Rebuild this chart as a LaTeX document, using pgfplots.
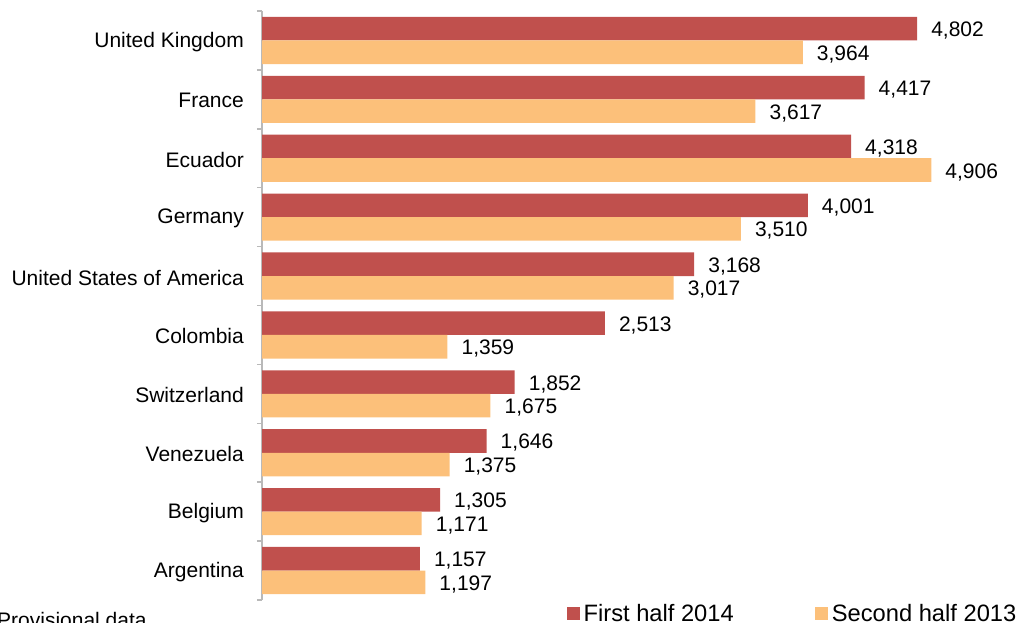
\documentclass[border=0pt]{standalone}
\usepackage{pgfplots}
\pgfplotsset{compat=1.18}
\usepackage{fontspec}
\setmainfont{Liberation Sans}
\definecolor{first}{RGB}{192,80,77}
\definecolor{second}{RGB}{252,192,122}
\definecolor{axisgray}{RGB}{185,185,185}
\newcommand{\lblfont}{\fontsize{21}{25}\selectfont}
\newcommand{\legfont}{\fontsize{23.7}{28}\selectfont}

\begin{document}
\begin{tikzpicture}
\useasboundingbox (0pt,0pt) rectangle (1020pt,622pt);
\begin{axis}[
  at={(262pt,22pt)}, anchor=south west,
  scale only axis,
  width=738pt, height=589pt,
  xbar, bar width=0.4,
  xmin=0, xmax=5410,
  ymin=-0.5, ymax=9.5,
  axis x line=none,
  axis y line*=left,
  axis line style={draw=axisgray, line width=1.5pt},
  ytick={0,...,9},
  yticklabels={Argentina, Belgium, Venezuela, Switzerland, Colombia, United States of America, Germany, Ecuador, France, United Kingdom},
  ytick style={draw=axisgray, line width=1.5pt},
  major tick length=0pt,
  yticklabel style={font=\lblfont, inner sep=0pt, xshift=-18pt, yshift=-1.5pt},
  extra y ticks={-0.5,0.5,1.5,2.5,3.5,4.5,5.5,6.5,7.5,8.5,9.5},
  extra y tick labels={},
  extra y tick style={tick align=outside, major tick length=5pt},
  clip=false,
  point meta=x,
  /pgf/number format/assume math mode=true,
  nodes near coords,
  every node near coord/.append style={font=\lblfont, anchor=west, inner sep=0pt, xshift=14pt, yshift=-2pt},
  legend columns=2,
  legend style={at={(0.4133,-0.0228)}, anchor=west, draw=none, fill=none,
    inner sep=0pt, outer sep=0pt, font=\legfont, nodes={inner sep=0pt},
    /tikz/every odd column/.append style={column sep=4pt},
    /tikz/every even column/.append style={column sep=81.5pt}},
  legend image code/.code={\fill[#1] (0pt,-6.3pt) rectangle (12.6pt,6.3pt);},
]
% first half 2014
\addplot[fill=first, draw=none, bar shift=0.2] coordinates {
  (1157,0) (1305,1) (1646,2) (1852,3) (2513,4) (3168,5) (4001,6) (4318,7) (4417,8) (4802,9)};
% second half 2013
\addplot[fill=second, draw=none, bar shift=-0.2] coordinates {
  (1197,0) (1171,1) (1375,2) (1675,3) (1359,4) (3017,5) (3510,6) (4906,7) (3617,8) (3964,9)};
\legend{First half 2014, Second half 2013}
\end{axis}
\node[anchor=base west, font=\lblfont, inner sep=0pt] at (-3pt,-5pt) {Provisional data};
\end{tikzpicture}
\end{document}
